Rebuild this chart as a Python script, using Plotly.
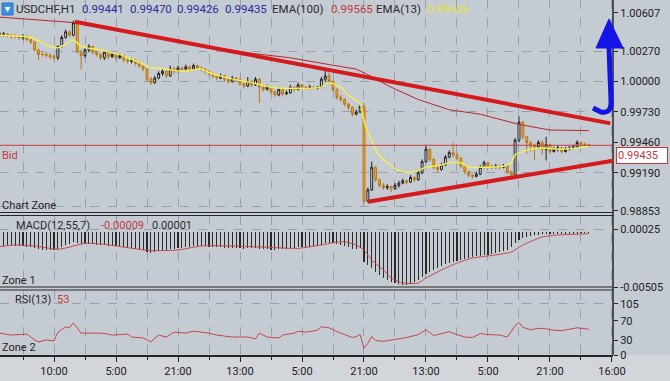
import plotly.graph_objects as go

# ---------------- data ----------------
bars = list(range(153))
opens = [1.0041,1.0042,1.0042,1.0041,1.0040,1.0040,1.0039,1.0040,1.0037,1.0035,
1.0028,1.0024,1.0024,1.0023,1.0022,1.0021,1.0031,1.0039,1.0044,1.0041,
1.0052,1.0026,1.0023,1.0028,1.0031,1.0026,1.0024,1.0021,1.0026,1.0022,
1.0024,1.0021,1.0023,1.0019,1.0018,1.0019,1.0016,1.0014,1.0011,1.0002,
0.9999,1.0003,1.0007,1.0009,1.0005,1.0011,1.0009,1.0012,1.0011,1.0013,
1.0011,1.0014,1.0012,1.0011,1.0009,1.0007,1.0005,1.0003,1.0005,1.0002,
1.0000,1.0003,1.0002,0.9998,0.9996,1.0000,0.9997,1.0002,0.9995,0.9993,
0.9995,0.9991,0.9988,0.9993,0.9989,0.9990,0.9995,0.9993,0.9997,0.9995,
0.9994,0.9995,0.9994,0.9995,1.0002,1.0005,1.0000,0.9993,0.9986,0.9984,
0.9980,0.9977,0.9971,0.9973,0.9978,0.9894,0.9904,0.9924,0.9913,0.9908,
0.9906,0.9907,0.9905,0.9908,0.9910,0.9912,0.9911,0.9915,0.9913,0.9919,
0.9929,0.9940,0.9931,0.9924,0.9922,0.9926,0.9933,0.9937,0.9935,0.9932,
0.9925,0.9920,0.9917,0.9916,0.9918,0.9924,0.9928,0.9925,0.9924,0.9925,
0.9924,0.9925,0.9920,0.9917,0.9948,0.9964,0.9951,0.9946,0.9943,0.9942,
0.9946,0.9940,0.9944,0.9938,0.9940,0.9941,0.9938,0.9940,0.9941,0.9942,
0.9946,0.99445,0.9944]
closes = [1.0042,1.0042,1.0041,1.0040,1.0040,1.0039,1.0040,1.0037,1.0035,1.0028,
1.0024,1.0024,1.0023,1.0022,1.0021,1.0031,1.0039,1.0044,1.0041,1.0052,
1.0026,1.0023,1.0028,1.0031,1.0026,1.0024,1.0021,1.0026,1.0022,1.0024,
1.0021,1.0023,1.0019,1.0018,1.0019,1.0016,1.0014,1.0011,1.0002,0.9999,
1.0003,1.0007,1.0009,1.0005,1.0011,1.0009,1.0012,1.0011,1.0013,1.0011,
1.0014,1.0012,1.0011,1.0009,1.0007,1.0005,1.0003,1.0005,1.0002,1.0000,
1.0003,1.0002,0.9998,0.9996,1.0000,0.9997,1.0002,0.9995,0.9993,0.9995,
0.9991,0.9988,0.9993,0.9989,0.9990,0.9995,0.9993,0.9997,0.9995,0.9994,
0.9995,0.9994,0.9995,1.0002,1.0005,1.0000,0.9993,0.9986,0.9984,0.9980,
0.9977,0.9971,0.9973,0.9978,0.9894,0.9904,0.9924,0.9913,0.9908,0.9906,
0.9907,0.9905,0.9908,0.9910,0.9912,0.9911,0.9915,0.9913,0.9919,0.9929,
0.9940,0.9931,0.9924,0.9922,0.9926,0.9933,0.9937,0.9935,0.9932,0.9925,
0.9920,0.9917,0.9916,0.9918,0.9924,0.9928,0.9925,0.9924,0.9925,0.9924,
0.9925,0.9920,0.9917,0.9948,0.9964,0.9951,0.9946,0.9943,0.9942,0.9946,
0.9940,0.9944,0.9938,0.9940,0.9941,0.9938,0.9940,0.9941,0.9942,0.9946,
0.99445,0.9944,0.99435]
highs = [1.0044,1.0044,1.0043,1.0042,1.0042,1.0041,1.0042,1.0041,1.0038,1.0036,
1.0029,1.0026,1.0026,1.0025,1.0024,1.0032,1.0041,1.0046,1.0045,1.0054,
1.0053,1.0028,1.0030,1.0033,1.0032,1.0027,1.0025,1.0027,1.0027,1.0026,
1.0025,1.0025,1.0024,1.0021,1.0021,1.0020,1.0018,1.0015,1.0012,1.0004,
1.0005,1.0009,1.0011,1.0010,1.0014,1.0013,1.0014,1.0013,1.0015,1.0014,
1.0016,1.0015,1.0013,1.0012,1.0010,1.0008,1.0006,1.0007,1.0006,1.0003,
1.0005,1.0004,1.0003,0.9999,1.0004,1.0001,1.0004,1.0003,0.9997,0.9997,
0.9996,0.9992,0.9995,0.9994,0.9992,0.9997,0.9996,0.9999,0.9998,0.9996,
0.9997,0.9996,0.9996,1.0004,1.0011,1.0008,1.0001,0.9994,0.9988,0.9985,
0.9981,0.9978,0.9975,0.9980,0.9981,0.9906,0.9929,0.9925,0.9914,0.9910,
0.9909,0.9908,0.9910,0.9912,0.9914,0.9913,0.9917,0.9916,0.9921,0.9931,
0.9943,0.9941,0.9932,0.9926,0.9928,0.9935,0.9939,0.9946,0.9937,0.9933,
0.9926,0.9921,0.9918,0.9920,0.9926,0.9930,0.9929,0.9926,0.9927,0.9926,
0.9927,0.9926,0.9921,0.9950,0.9969,0.9965,0.9952,0.9947,0.9945,0.9948,
0.9948,0.9951,0.9945,0.9942,0.9943,0.9942,0.9942,0.9943,0.9944,0.9948,
0.9947,0.9946,0.9945]
lows = [1.0040,1.0040,1.0039,1.0038,1.0038,1.0037,1.0037,1.0036,1.0033,1.0027,
1.0019,1.0022,1.0021,1.0020,1.0019,1.0019,1.0030,1.0038,1.0040,1.0040,
1.0025,1.0011,1.0021,1.0026,1.0024,1.0022,1.0019,1.0019,1.0020,1.0021,
1.0019,1.0020,1.0017,1.0016,1.0016,1.0014,1.0012,1.0009,1.0000,0.9997,
0.9998,1.0002,1.0005,1.0003,1.0004,1.0007,1.0008,1.0009,1.0010,1.0009,
1.0010,1.0010,1.0009,1.0007,1.0005,1.0003,1.0001,1.0002,1.0000,0.9998,
0.9999,1.0000,0.9996,0.9994,0.9995,0.9995,0.9996,0.9981,0.9991,0.9992,
0.9989,0.9986,0.9987,0.9987,0.9988,0.9989,0.9991,0.9992,0.9993,0.9993,
0.9993,0.9993,0.9993,0.9994,1.0000,0.9998,0.9991,0.9984,0.9982,0.9978,
0.9975,0.9969,0.9970,0.9972,0.9892,0.9893,0.9903,0.9911,0.9906,0.9904,
0.9904,0.9902,0.9904,0.9906,0.9909,0.9909,0.9910,0.9911,0.9912,0.9918,
0.9928,0.9929,0.9922,0.9920,0.9921,0.9925,0.9932,0.9933,0.9930,0.9923,
0.9918,0.9915,0.9914,0.9915,0.9917,0.9923,0.9923,0.9922,0.9923,0.9922,
0.9923,0.9918,0.9914,0.9916,0.9946,0.9949,0.9936,0.9938,0.9930,0.9940,
0.9935,0.9930,0.9936,0.9937,0.9938,0.9936,0.9937,0.9939,0.9940,0.9941,
0.9943,0.9942,0.9942]

ema13_bar = [0,8,13,15,17,19,21,26,31,33,36,39,41,47,52,54,59,65,70,75,80,83,85,88,90,93,94,95,96,97,98,100,102,104,107,110,114,116,119,121,124,130,132,133,137,141,145,149,152]
ema13_val = [1.0041,1.0039,1.0031,1.0030,1.0033,1.0037,1.0031,1.0028,1.0024,1.0021,1.0017,1.0012,1.0012,1.0009,1.0011,1.0008,1.0003,0.9999,0.9995,0.9994,0.9994,0.9995,0.9999,0.9995,0.9988,0.9980,0.9965,0.9955,0.9947,0.9940,0.9934,0.9928,0.9923,0.9920,0.9920,0.9924,0.9926,0.9928,0.9928,0.9924,0.9924,0.9925,0.9928,0.9935,0.9940,0.9941,0.9940,0.9941,0.99426]

ema100_bar = [0,20,39,52,65,75,85,92,95,101,108,116,124,134,142,152]
ema100_val = [1.0057,1.0052,1.0041,1.0032,1.0025,1.0021,1.0015,1.0011,1.0006,0.9995,0.9984,0.9975,0.9971,0.9962,0.9957,0.99565]

macd_hist = [-0.00127,-0.00127,-0.00118,-0.00118,-0.00127,-0.00127,-0.00127,-0.00136,-0.00136,-0.00146,
-0.00155,-0.00164,-0.00164,-0.00164,-0.00164,-0.00155,-0.00136,-0.00118,-0.00109,-0.00090,
-0.00100,-0.00109,-0.00109,-0.00109,-0.00109,-0.00118,-0.00118,-0.00118,-0.00127,-0.00127,
-0.00127,-0.00136,-0.00136,-0.00146,-0.00146,-0.00155,-0.00155,-0.00164,-0.00183,-0.00192,
-0.00183,-0.00173,-0.00164,-0.00164,-0.00155,-0.00155,-0.00146,-0.00146,-0.00136,-0.00136,
-0.00127,-0.00127,-0.00127,-0.00127,-0.00136,-0.00136,-0.00136,-0.00136,-0.00146,-0.00146,
-0.00146,-0.00146,-0.00146,-0.00155,-0.00146,-0.00146,-0.00146,-0.00155,-0.00155,-0.00155,
-0.00164,-0.00164,-0.00155,-0.00155,-0.00155,-0.00146,-0.00146,-0.00136,-0.00136,-0.00136,
-0.00136,-0.00127,-0.00127,-0.00118,-0.00100,-0.00100,-0.00100,-0.00109,-0.00118,-0.00127,
-0.00136,-0.00155,-0.00155,-0.00146,-0.00275,-0.00302,-0.00330,-0.00367,-0.00394,-0.00422,
-0.00441,-0.00459,-0.00468,-0.00478,-0.00487,-0.00487,-0.00478,-0.00459,-0.00441,-0.00413,
-0.00385,-0.00367,-0.00348,-0.00330,-0.00312,-0.00293,-0.00284,-0.00275,-0.00266,-0.00256,
-0.00247,-0.00238,-0.00229,-0.00219,-0.00219,-0.00210,-0.00210,-0.00201,-0.00192,-0.00183,
-0.00173,-0.00164,-0.00136,-0.00100,-0.00072,-0.00053,-0.00044,-0.00035,-0.00026,-0.00026,
-0.00017,-0.00017,-0.00015,-0.00015,-0.00015,-0.00014,-0.00014,-0.00013,-0.00013,-0.00013,
-0.00012,-0.00012,-0.00012]

signal_bar = [0,4,9,15,17,22,26,30,34,39,46,52,60,69,77,83,86,89,92,94,96,99,101,104,108,110,114,118,122,126,132,135,140,144,150,152]
signal_val = [-0.00133,-0.00118,-0.00127,-0.00158,-0.00146,-0.00102,-0.00109,-0.00127,-0.00148,-0.00170,-0.00164,-0.00127,-0.00127,-0.00139,-0.00149,-0.00118,-0.00097,-0.00087,-0.00118,-0.00164,-0.00256,-0.00348,-0.00422,-0.00468,-0.00468,-0.00422,-0.00348,-0.00284,-0.00238,-0.00219,-0.00183,-0.00118,-0.00044,-0.00026,-0.00017,-0.00012]

rsi_bar = [0,3,7,9,10,12,14,15,17,18,19,21,23,26,28,29,33,34,37,39,41,43,45,48,50,54,56,60,64,66,67,69,72,73,76,77,79,82,83,85,87,89,91,92,93,94,95,96,97,99,102,105,108,110,112,114,116,118,120,122,124,126,129,131,133,134,135,137,139,141,143,145,147,149,150,152]
rsi_val = [45,41,43,31,27,31,29,47,58,56,66,45,45,45,43,41,43,37,35,27,41,37,47,45,49,45,41,37,37,33,45,37,35,41,45,49,47,51,58,56,48,42,36,38,42,14,24,38,30,28,32,36,42,52,40,44,48,42,37,36,44,42,41,37,60,67,57,52,55,54,51,50,53,56,55,53]

xtick_vals = [14,30,46,62,78,94,110,126,142,158]
xtick_text = ["10:00","5:00","21:00","13:00","5:00","21:00","13:00","5:00","21:00","16:00"]

price_ticks = [1.00607,1.00270,1.00000,0.99730,0.99460,0.99190,0.98853]
price_grid = [1.00270,1.00000,0.99730,0.99190,0.98897]
macd_ticks = [0.00025,-0.00505]
rsi_ticks = [105,70,30,0]

bid_price = 0.99435
trend_upper = [(19.4, 1.0053), (157.6, 0.99629)]
trend_lower = [(95.0, 0.98935), (158.2, 0.99299)]

# ---------------- styling ----------------
FONT = "Roboto, Liberation Sans, sans-serif"
BG = "#c5cbd3"
GRID = "#97a0ac"
DARK = "#262626"
PH = 355.0   # plot height in px
PW = 613.0   # plot width in px

def py(p):
    return (PH - p) / PH

def px(x):
    return x / PW

XR = [0.065, 158.26]

fig = go.Figure()
fig.add_trace(go.Candlestick(
    x=bars, open=opens, high=highs, low=lows, close=closes,
    increasing=dict(line=dict(color="#1e1e1e", width=1), fillcolor="#eeeeee"),
    decreasing=dict(line=dict(color="#b97812", width=1), fillcolor="#f2a62c"),
    whiskerwidth=0, xaxis="x", yaxis="y", showlegend=False, hoverinfo="skip"))
fig.add_trace(go.Scatter(x=ema100_bar, y=ema100_val, mode="lines",
    line=dict(color="#b42a2a", width=1), xaxis="x", yaxis="y", showlegend=False))
fig.add_trace(go.Scatter(x=ema13_bar, y=ema13_val, mode="lines",
    line=dict(color="#f2ee55", width=1.5, shape="spline", smoothing=0.6),
    xaxis="x", yaxis="y", showlegend=False))
fig.add_trace(go.Bar(x=bars, y=macd_hist, width=0.26,
    marker=dict(color="#2a2a2a", line=dict(width=0)), xaxis="x2", yaxis="y2", showlegend=False))
fig.add_trace(go.Scatter(x=signal_bar, y=signal_val, mode="lines",
    line=dict(color="#c84646", width=1, shape="spline", smoothing=0.5),
    xaxis="x2", yaxis="y2", showlegend=False))
fig.add_trace(go.Scatter(x=rsi_bar, y=rsi_val, mode="lines",
    line=dict(color="#c44848", width=1), xaxis="x3", yaxis="y3", showlegend=False))

minor_x = dict(tickmode="linear", tick0=6, dtick=8, showgrid=True,
               gridcolor=GRID, griddash="dash", gridwidth=1)

def xaxis_cfg(anchor, labels):
    d = dict(domain=[0, 1], range=XR, anchor=anchor, tickmode="array",
             tickvals=xtick_vals, ticktext=xtick_text, showgrid=True,
             gridcolor=GRID, griddash="dash", gridwidth=1, zeroline=False,
             rangeslider=dict(visible=False), fixedrange=True)
    if labels:
        d.update(showticklabels=True, ticks="outside", ticklen=5, tickcolor=DARK,
                 tickfont=dict(family=FONT, size=11, color="#222222"),
                 showline=True, linecolor=DARK, linewidth=1.5,
                 minor=dict(minor_x, ticks="outside", ticklen=3, tickcolor=DARK))
    else:
        d.update(showticklabels=False, ticks="", minor=dict(minor_x))
    return d

ytick_font = dict(family=FONT, size=11, color="#222222")

fig.update_layout(
    width=670, height=381,
    margin=dict(l=0, r=57, t=0, b=26),
    paper_bgcolor=BG, plot_bgcolor=BG,
    showlegend=False, bargap=0,
    xaxis=xaxis_cfg("y", False),
    xaxis2=xaxis_cfg("y2", False),
    xaxis3=xaxis_cfg("y3", True),
    yaxis=dict(domain=[py(212), 1], range=[0.98844, 1.00722], side="right", anchor="x",
               tickmode="array", tickvals=price_ticks, ticktext=["%.5f" % v for v in price_ticks],
               ticks="outside", ticklen=4, tickcolor=DARK, tickfont=ytick_font,
               showgrid=False, zeroline=False, fixedrange=True,
               minor=dict(tickmode="array", tickvals=price_grid, showgrid=True,
                          gridcolor=GRID, griddash="dash", ticks="")),
    yaxis2=dict(domain=[py(287), py(216)], range=[-0.00505, 0.00149], side="right", anchor="x2",
                tickmode="array", tickvals=macd_ticks, ticktext=["%.5f" % v for v in macd_ticks],
                ticks="outside", ticklen=4, tickcolor=DARK, tickfont=ytick_font, fixedrange=True,
                showgrid=True, gridcolor=GRID, griddash="dash", zeroline=False),
    yaxis3=dict(domain=[0, py(291)], range=[0, 131.7], side="right", anchor="x3",
                tickmode="array", tickvals=rsi_ticks, ticktext=[str(v) for v in rsi_ticks],
                ticks="outside", ticklen=4, tickcolor=DARK, tickfont=ytick_font,
                showgrid=False, zeroline=False, fixedrange=True,
                minor=dict(tickmode="array", tickvals=[105], showgrid=True,
                           gridcolor=GRID, griddash="dash", ticks="")),
)

shapes = []
# bottom light strip
shapes.append(dict(type="rect", xref="paper", yref="paper", x0=0, x1=670/PW, y0=-26/PH, y1=0,
                   fillcolor="#d2d5d9", line=dict(width=0), layer="below"))
# panel separators (double lines)
for p in [212.5, 215.5, 287.0, 290.0]:
    shapes.append(dict(type="line", xref="paper", yref="paper", x0=0, x1=1, y0=py(p), y1=py(p),
                       line=dict(color=DARK, width=1)))
# right axis line
shapes.append(dict(type="line", xref="paper", yref="paper", x0=1, x1=1, y0=0, y1=1,
                   line=dict(color=DARK, width=1.5)))
# bid line
shapes.append(dict(type="line", xref="paper", x0=0, x1=1, yref="y", y0=bid_price, y1=bid_price,
                   line=dict(color="#c83c3c", width=1)))
# trend lines
for (a, b) in [trend_upper, trend_lower]:
    shapes.append(dict(type="line", xref="x", yref="y", x0=a[0], y0=a[1], x1=b[0], y1=b[1],
                       line=dict(color="#d41a1a", width=4)))
# blue arrow
shaft = "M %f,%f L %f,%f Q %f,%f %f,%f L %f,%f" % (
    px(609), py(48), px(611), py(100), px(612), py(114), px(601), py(112), px(593), py(108))
shapes.append(dict(type="path", xref="paper", yref="paper", path=shaft,
                   line=dict(color="#1414e6", width=5)))
head = "M %f,%f L %f,%f L %f,%f Z" % (px(609), py(19), px(596), py(48), px(623), py(48))
shapes.append(dict(type="path", xref="paper", yref="paper", path=head,
                   fillcolor="#1414e6", line=dict(color="#1414e6", width=1)))
# header icon
shapes.append(dict(type="rect", xref="paper", yref="paper", x0=px(2), x1=px(13), y0=py(15), y1=py(3),
                   fillcolor="#3a90e0", line=dict(color="#2a70c0", width=1)))
shapes.append(dict(type="path", xref="paper", yref="paper",
                   path="M %f,%f L %f,%f L %f,%f Z" % (px(4.5), py(7), px(10.5), py(7), px(7.5), py(12)),
                   fillcolor="white", line=dict(width=0)))
fig.update_layout(shapes=shapes)

def ann(x, y, text, color="#2a2a2a", size=11):
    return dict(xref="paper", yref="paper", x=px(x), y=py(y), text=text, showarrow=False,
                xanchor="left", yanchor="middle", font=dict(family=FONT, size=size, color=color))

BLUE = "#2a2a9c"
anns = [
    ann(14, 9, "USDCHF,H1", "#2a2a2a", 11.5),
    ann(80, 9, "0.99441", BLUE, 11.5),
    ann(128, 9, "0.99470", BLUE, 11.5),
    ann(175, 9, "0.99426", BLUE, 11.5),
    ann(223, 9, "0.99435", BLUE, 11.5),
    ann(270, 9, "EMA(100)", "#2a2a2a", 11.5),
    ann(329, 9, "0.99565", "#c03a3a", 11.5),
    ann(374, 9, "EMA(13)", "#2a2a2a", 11.5),
    ann(425, 9, "0.99426", "#e8e43a", 11.5),
    ann(0, 155, "Bid", "#c03a3a", 11),
    ann(0, 205, "Chart Zone", "#222222", 11),
    ann(14, 225, "MACD(12,55,7)", "#2a2a2a", 11),
    ann(99, 225, "-0.00009", "#c03a3a", 11),
    ann(150, 225, "0.00001", "#2a2a2a", 11),
    ann(0, 280, "Zone 1", "#222222", 11),
    ann(13, 299, "RSI(13)", "#2a2a2a", 11),
    ann(55, 299, "53", "#c03a3a", 11),
    ann(0, 347, "Zone 2", "#222222", 11),
    dict(xref="paper", yref="paper", x=1, y=py(155), xanchor="left", yanchor="middle", xshift=3,
         text="0.99435", showarrow=False, font=dict(family=FONT, size=11, color="#c03a3a"),
         bgcolor="#ffffff", bordercolor="#c03a3a", borderwidth=1, borderpad=1, width=48, align="left"),
]
fig.update_layout(annotations=anns)

fig.write_html("out.html", config={"displayModeBar": False, "staticPlot": True},
               post_script="document.body.style.margin='0';document.body.style.padding='0';"
                           "document.documentElement.style.overflow='hidden';")
